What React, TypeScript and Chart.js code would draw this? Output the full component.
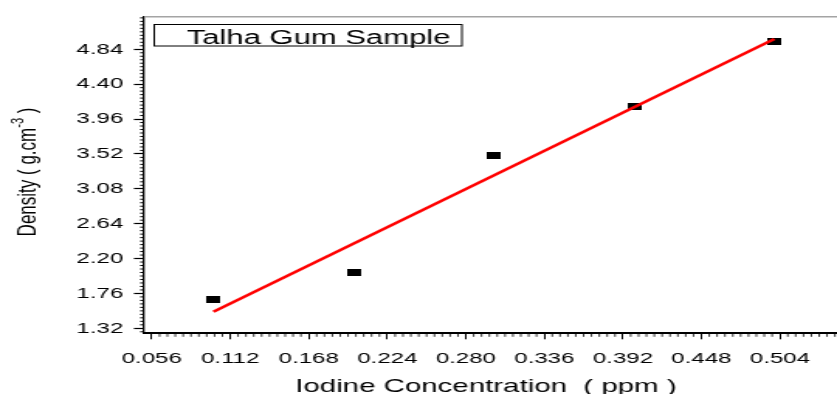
import React, { useEffect, useRef } from "react";
import { Chart, registerables } from "chart.js";

Chart.register(...registerables);

// ---- data ----
const concentration = [0.1, 0.2, 0.3, 0.4, 0.5];
const density = [1.686, 2.03, 3.498, 4.116, 4.936];
const fitConcentration = [0.1, 0.5];
const fitDensity = [1.53, 4.97];
const xTickValues = [0.056, 0.112, 0.168, 0.224, 0.28, 0.336, 0.392, 0.448, 0.504];
const xTickLabels = ["0.056", "0.112", "0.168", "0.224", "0.280", "0.336", "0.392", "0.448", "0.504"];
const yTickValues = [1.32, 1.76, 2.2, 2.64, 3.08, 3.52, 3.96, 4.4, 4.84];
const yTickLabels = ["1.32", "1.76", "2.20", "2.64", "3.08", "3.52", "3.96", "4.40", "4.84"];
const seriesLabel = "Talha Gum Sample";
const xTitle = "Iodine Concentration  ( ppm )";
const yTitleMain = "Density ( g.cm";
const yTitleSup = "-3";
const yTitleEnd = " )";

// ---- layout / style ----
const STRETCH = 1.55;
const VIEW_W = 837;
const VIEW_H = 394;
const CANVAS_W = Math.round(VIEW_W / STRETCH);
const FONT = "'Liberation Sans', Arial, sans-serif";

function makeMarker() {
  const c = document.createElement("canvas");
  c.width = 9;
  c.height = 7;
  const g = c.getContext("2d")!;
  g.fillStyle = "#000";
  g.fillRect(0, 0, 9, 7);
  return c;
}

const decorPlugin = {
  id: "decor",
  afterDraw(chart: any) {
    const ctx = chart.ctx;
    const area = chart.chartArea;
    const xs = chart.scales.x;
    const ys = chart.scales.y;
    ctx.save();
    // top border
    ctx.strokeStyle = "#a4a4a4";
    ctx.lineWidth = 1.5;
    ctx.beginPath();
    ctx.moveTo(area.left, area.top);
    ctx.lineTo(area.right, area.top);
    ctx.stroke();

    // minor ticks x
    ctx.strokeStyle = "#000";
    ctx.lineWidth = 0.8;
    const xStep = (xTickValues[1] - xTickValues[0]) / 10;
    for (let k = -20; k < 200; k++) {
      if (k % 10 === 0) continue;
      const v = xTickValues[0] + k * xStep;
      if (v < xs.min || v > xs.max) continue;
      const px = xs.getPixelForValue(v);
      ctx.beginPath();
      ctx.moveTo(px, area.bottom);
      ctx.lineTo(px, area.bottom + 3.5);
      ctx.stroke();
    }
    // minor ticks y
    ctx.lineWidth = 1;
    const yStep = (yTickValues[1] - yTickValues[0]) / 10;
    for (let k = -20; k < 200; k++) {
      if (k % 10 === 0) continue;
      const v = yTickValues[0] + k * yStep;
      if (v < ys.min || v > ys.max) continue;
      const py = ys.getPixelForValue(v);
      ctx.beginPath();
      ctx.moveTo(area.left, py);
      ctx.lineTo(area.left - 2.5, py);
      ctx.stroke();
    }

    // legend box
    ctx.lineWidth = 1;
    ctx.strokeStyle = "#000";
    ctx.strokeRect(99.5, 24.5, 198.5, 21.5);
    ctx.fillStyle = "#000";
    ctx.font = `20px ${FONT}`;
    ctx.textBaseline = "alphabetic";
    ctx.textAlign = "left";
    ctx.fillText(seriesLabel, 120.5, 44);

    // x title
    ctx.font = `19px ${FONT}`;
    ctx.textAlign = "center";
    ctx.fillText(xTitle, 313.5, 392);

    // y title
    ctx.translate(22.6, 172);
    ctx.rotate(-Math.PI / 2);
    const mainFont = `17px ${FONT}`;
    const supFont = `11px ${FONT}`;
    ctx.font = mainFont;
    const w1 = ctx.measureText(yTitleMain).width;
    const w3 = ctx.measureText(yTitleEnd).width;
    ctx.font = supFont;
    const w2 = ctx.measureText(yTitleSup).width;
    const total = w1 + w2 + w3;
    const x0 = -total / 2;
    ctx.textAlign = "left";
    ctx.font = mainFont;
    ctx.fillText(yTitleMain, x0, 0);
    ctx.font = supFont;
    ctx.fillText(yTitleSup, x0 + w1, -8);
    ctx.font = mainFont;
    ctx.fillText(yTitleEnd, x0 + w1 + w2, 0);
    ctx.restore();
  },
};

export default function App() {
  const ref = useRef<HTMLCanvasElement>(null);
  useEffect(() => {
    const canvas = ref.current!;
    const marker = makeMarker();
    const chart = new Chart(canvas, {
      type: "scatter",
      data: {
        datasets: [
          {
            label: "fit",
            type: "line",
            data: fitConcentration.map((x, i) => ({ x, y: fitDensity[i] })),
            borderColor: "#ff0000",
            borderWidth: 2.5,
            pointRadius: 0,
            fill: false,
            order: 0,
          } as any,
          {
            label: seriesLabel,
            data: concentration.map((x, i) => ({ x, y: density[i] })),
            pointStyle: marker as any,
            pointRadius: 5,
            backgroundColor: "#000",
            borderColor: "#000",
            order: 1,
          },
        ],
      },
      options: {
        responsive: false,
        animation: false,
        events: [],
        layout: { autoPadding: false, padding: { top: 16.7, left: 0, right: 0, bottom: 0 } },
        plugins: { legend: { display: false }, tooltip: { enabled: false } },
        scales: {
          x: {
            type: "linear",
            min: 0.0505,
            max: 0.5447,
            afterBuildTicks: (s: any) => {
              s.ticks = xTickValues.map((value) => ({ value }));
            },
            afterFit: (s: any) => {
              s.height = 60.7;
              s.paddingLeft = 0;
              s.paddingRight = 0;
            },
            ticks: {
              callback: (_v: any, i: number) => xTickLabels[i],
              font: { family: FONT, size: 15.5 },
              color: "#000",
              padding: 10.5,
              maxRotation: 0,
              autoSkip: false,
            },
            grid: {
              drawOnChartArea: false,
              drawTicks: true,
              tickLength: 6,
              tickColor: "#000",
              tickWidth: 1,
            },
            border: { color: "#000", width: 2 },
          },
          y: {
            type: "linear",
            min: 1.257,
            max: 5.251,
            afterBuildTicks: (s: any) => {
              s.ticks = yTickValues.map((value) => ({ value }));
            },
            afterFit: (s: any) => {
              s.width = 144 / STRETCH;
              s.paddingTop = 0;
              s.paddingBottom = 0;
            },
            ticks: {
              callback: (_v: any, i: number) => yTickLabels[i],
              font: { family: FONT, size: 15.5 },
              color: "#000",
              padding: 6.9,
              autoSkip: false,
            },
            grid: {
              drawOnChartArea: false,
              drawTicks: true,
              tickLength: 6.5,
              tickColor: "#000",
              tickWidth: 1.2,
            },
            border: { color: "#000", width: 1.3 },
          },
        },
      },
      plugins: [decorPlugin],
    });
    return () => chart.destroy();
  }, []);

  return (
    <div
      style={{
        position: "absolute",
        left: 0,
        top: 0,
        width: VIEW_W,
        height: VIEW_H,
        overflow: "hidden",
        background: "#fff",
      }}
    >
      <canvas
        ref={ref}
        width={CANVAS_W}
        height={VIEW_H}
        style={{ width: `${VIEW_W}px`, height: `${VIEW_H}px`, display: "block" }}
      />
    </div>
  );
}
